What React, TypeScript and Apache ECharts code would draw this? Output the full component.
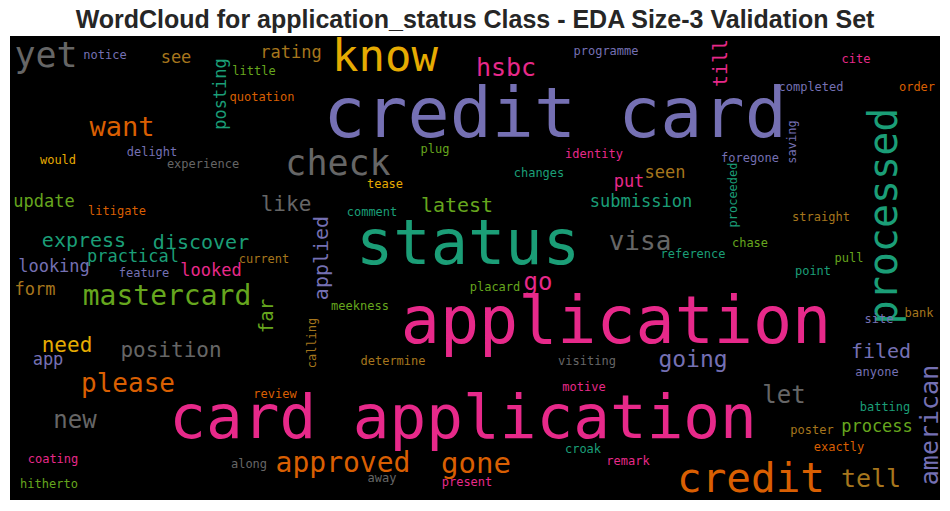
import React, { useEffect, useRef } from "react";
import * as echarts from "echarts";

const titleText = "WordCloud for application_status Class - EDA Size-3 Validation Set";

// Dark2 palette
const palette = ["#1b9e77", "#d95f02", "#7570b3", "#e7298a", "#66a61e", "#e6ab02", "#a6761d", "#666666"];

// word cloud layout (canvas pixel coordinates: x 0..930, y 0..464)
const words = [
  "credit card", "application", "card application", "status", "know", "credit", "processed", "yet", "check",
  "mastercard", "approved", "gone", "want", "please", "hsbc", "american", "visa", "tell", "let", "new", "go",
  "going", "need", "position", "like", "applied", "express", "discover", "latest", "filed", "till", "far",
  "submission", "update", "practical", "looking", "looked", "form", "app", "process", "seen", "put", "see",
  "rating", "posting",
  "notice", "little", "quotation", "delight", "would", "experience", "programme", "plug", "identity", "changes",
  "tease", "cite", "completed", "order", "saving", "foregone", "proceeded", "litigate", "current", "feature",
  "calling", "review", "coating", "hitherto", "along", "determine", "visiting", "motive", "croak", "remark",
  "away", "present", "anyone", "batting", "poster", "exactly", "straight", "chase", "reference", "pull", "point",
  "bank", "site", "comment", "placard", "meekness",
];
const wordX = [
  545, 606, 453, 458, 375, 741, 873, 36, 328,
  157, 333, 466, 112, 118, 496, 919, 630, 861, 774, 65, 528,
  683, 57, 161, 276, 311, 74, 191, 447, 871, 710, 256,
  631, 34, 123, 44, 201, 25, 38, 867, 655, 619, 166,
  281, 210,
  95, 244, 252, 142, 48, 193, 596, 425, 584, 529,
  375, 846, 801, 907, 782, 740, 723, 107, 254, 134,
  302, 265, 43, 39, 239, 383, 577, 574, 573, 618,
  372, 457, 867, 875, 802, 829, 811, 740, 683, 839, 803,
  909, 869, 362, 485, 350,
];
const wordY = [
  77, 284, 380, 206, 19, 442, 180, 19, 127,
  259, 426, 427, 90, 347, 31, 389, 205, 442, 359, 384, 246,
  323, 309, 314, 168, 222, 204, 206, 169, 315, 27, 280,
  165, 165, 220, 230, 234, 253, 323, 390, 136, 145, 21,
  16, 58,
  19, 35, 61, 116, 124, 128, 15, 113, 118, 137,
  148, 23, 51, 51, 106, 122, 159, 175, 223, 237,
  307, 358, 423, 448, 428, 325, 325, 351, 413, 425,
  442, 446, 336, 371, 394, 411, 181, 207, 218, 222, 235,
  277, 283, 176, 251, 270,
];
const wordSize = [
  70, 65, 61, 62, 44, 41, 40, 35, 35,
  28, 28, 29, 27, 26, 25, 25, 26, 25, 24, 24, 24,
  23, 21, 21, 21, 20, 20, 20, 20, 20, 20, 19,
  17, 17, 17, 17, 17, 17, 17, 17, 17, 17, 17,
  17, 17,
  12, 12, 12, 12, 12, 12, 12, 12, 12, 12,
  12, 12, 12, 12, 12, 12, 12, 12, 12, 12,
  12, 12, 12, 12, 12, 12, 12, 12, 12, 12,
  12, 12, 12, 12, 12, 12, 12, 12, 12, 12, 12,
  12, 12, 12, 12, 12,
];
const wordColor = [
  2, 3, 3, 0, 5, 1, 0, 7, 7,
  4, 1, 1, 1, 1, 3, 2, 7, 6, 7, 7, 3,
  2, 5, 7, 7, 2, 0, 0, 4, 2, 3, 4,
  0, 4, 0, 2, 3, 6, 2, 4, 6, 3, 6,
  6, 0,
  2, 4, 1, 2, 5, 7, 2, 4, 3, 0,
  5, 3, 2, 1, 2, 2, 0, 1, 6, 2,
  6, 1, 3, 4, 7, 6, 7, 3, 0, 3,
  7, 3, 2, 0, 6, 1, 6, 4, 0, 4, 0,
  6, 2, 0, 4, 4,
];
const verticalWords = ["processed", "american", "applied", "till", "far", "posting", "saving", "proceeded", "calling"];

export default function App() {
  const ref = useRef<HTMLDivElement>(null);
  useEffect(() => {
    if (!ref.current) return;
    const chart = echarts.init(ref.current, null, { renderer: "svg" });
    const data = words.map((w, i) => ({
      name: w,
      value: [wordX[i], wordY[i]],
      label: {
        fontSize: wordSize[i],
        color: palette[wordColor[i]],
        rotate: verticalWords.includes(w) ? 90 : 0,
      },
    }));
    chart.setOption({
      animation: false,
      backgroundColor: "#ffffff",
      title: {
        text: titleText,
        left: "center",
        top: 1,
        textStyle: {
          fontFamily: "Liberation Sans, Arial, sans-serif",
          fontWeight: "bold",
          fontSize: 25,
          color: "#262626",
        },
      },
      grid: {
        left: 10,
        right: 10,
        top: 36,
        bottom: 11,
        show: true,
        backgroundColor: "#000000",
        borderWidth: 0,
      },
      xAxis: { type: "value", min: 0, max: 930, show: false },
      yAxis: { type: "value", min: 0, max: 464, inverse: true, show: false },
      series: [
        {
          type: "scatter",
          symbolSize: 0,
          silent: true,
          itemStyle: { opacity: 1 },
          data,
          label: {
            show: true,
            position: "inside",
            formatter: "{b}",
            fontFamily: "DejaVu Sans Mono, monospace",
            textBorderWidth: 0,
            opacity: 1,
            align: "center",
            verticalAlign: "middle",
          },
          emphasis: { disabled: true },
        },
      ],
    });
    return () => chart.dispose();
  }, []);
  return <div ref={ref} style={{ position: "fixed", left: 0, top: 0, width: 950, height: 511 }} />;
}
